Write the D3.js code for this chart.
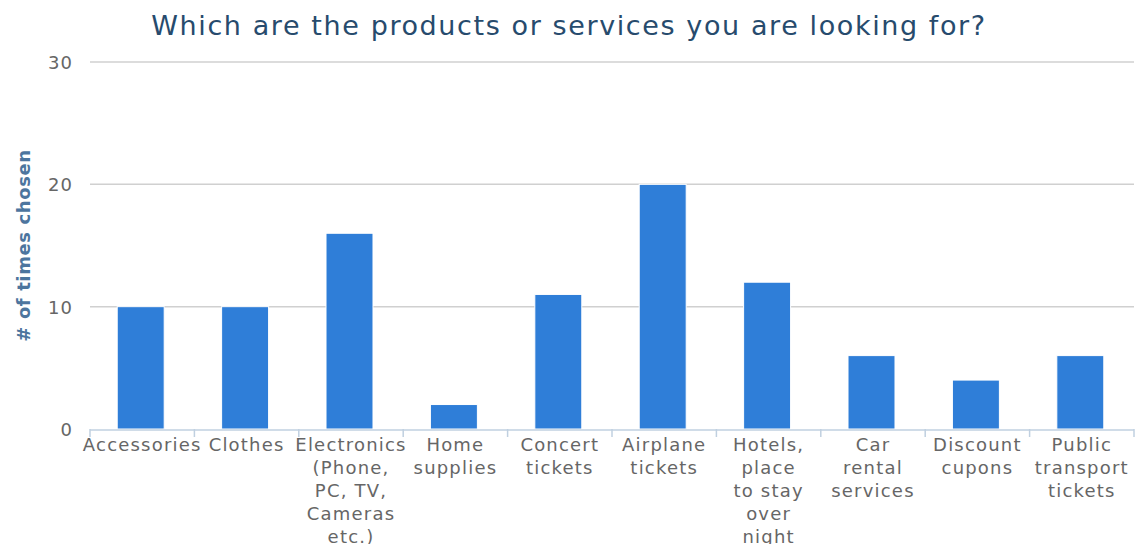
<!DOCTYPE html>
<html>
<head>
<meta charset="utf-8">
<script src="https://cdn.jsdelivr.net/npm/d3@7"></script>
<style>
  body { margin: 0; background: #fff; }
  text { font-family: "DejaVu Sans", sans-serif; }
</style>
</head>
<body>
<div id="chart"></div>
<script>
var width = 1146, height = 544;
var margin = {top: 62, right: 12, bottom: 115, left: 90};

var categories = [
  "Accessories", "Clothes", "Electronics (Phone, PC, TV, Cameras etc.)",
  "Home supplies", "Concert tickets", "Airplane tickets",
  "Hotels, place to stay over night", "Car rental services",
  "Discount cupons", "Public transport tickets"
];
var labelLines = [
  ["Accessories"], ["Clothes"], ["Electronics", "(Phone,", "PC, TV,", "Cameras", "etc.)"],
  ["Home", "supplies"], ["Concert", "tickets"], ["Airplane", "tickets"],
  ["Hotels,", "place", "to stay", "over", "night"], ["Car", "rental", "services"],
  ["Discount", "cupons"], ["Public", "transport", "tickets"]
];
var values = [10, 10, 16, 2, 11, 20, 12, 6, 4, 6];
var yTicks = [0, 10, 20, 30];

var svg = d3.select("#chart").append("svg")
  .attr("width", width)
  .attr("height", height);

var x = d3.scaleBand()
  .domain(categories)
  .range([margin.left, width - margin.right])
  .padding(0);

var y = d3.scaleLinear()
  .domain([0, 30])
  .range([height - margin.bottom, margin.top]);

// gridlines
svg.append("g").selectAll("line")
  .data(yTicks.filter(function(d) { return d > 0; }))
  .enter().append("line")
  .attr("x1", margin.left)
  .attr("x2", width - margin.right)
  .attr("y1", function(d) { return y(d); })
  .attr("y2", function(d) { return y(d); })
  .attr("stroke", "#d0d0d0")
  .attr("stroke-width", 1.5);

// y labels
svg.append("g").selectAll("text")
  .data(yTicks)
  .enter().append("text")
  .attr("x", margin.left - 17)
  .attr("y", function(d) { return y(d) + 7; })
  .attr("text-anchor", "end")
  .attr("fill", "#666")
  .attr("font-size", "18px")
  .attr("letter-spacing", "1px")
  .text(function(d) { return d; });

// bars
var barW = x.bandwidth() * 0.45;
svg.append("g").selectAll("rect")
  .data(values)
  .enter().append("rect")
  .attr("x", function(d, i) { return x(categories[i]) + (x.bandwidth() - barW) / 2 - 1.5; })
  .attr("y", function(d) { return y(d); })
  .attr("width", barW)
  .attr("height", function(d) { return y(0) - y(d); })
  .attr("fill", "#2f7ed8")
  .attr("stroke", "#fff")
  .attr("stroke-width", 1);

// x axis line + ticks
var base = y(0);
svg.append("line")
  .attr("x1", margin.left).attr("x2", width - margin.right)
  .attr("y1", base + 1).attr("y2", base + 1)
  .attr("stroke", "#c0d0e0").attr("stroke-width", 1.5);

var tickPos = categories.map(function(c) { return x(c); });
tickPos.push(width - margin.right);
svg.append("g").selectAll("line")
  .data(tickPos)
  .enter().append("line")
  .attr("x1", function(d) { return d; })
  .attr("x2", function(d) { return d; })
  .attr("y1", base)
  .attr("y2", base + 8)
  .attr("stroke", "#c0d0e0")
  .attr("stroke-width", 1.5);

// x labels
var xl = svg.append("g").selectAll("text")
  .data(labelLines)
  .enter().append("text")
  .attr("text-anchor", "middle")
  .attr("fill", "#666")
  .attr("font-size", "18px")
  .attr("letter-spacing", "1.2px")
  .attr("transform", function(d, i) {
    return "translate(" + (x(categories[i]) + x.bandwidth() / 2) + "," + (base + 22) + ")";
  });
xl.selectAll("tspan")
  .data(function(d) { return d; })
  .enter().append("tspan")
  .attr("x", 0)
  .attr("dy", function(d, i) { return i === 0 ? 0 : 23; })
  .text(function(d) { return d; });

// title
svg.append("text")
  .attr("x", 569)
  .attr("y", 35)
  .attr("text-anchor", "middle")
  .attr("fill", "#274b6d")
  .attr("font-size", "27px")
  .attr("letter-spacing", "1.6px")
  .text("Which are the products or services you are looking for?");

// y axis title
svg.append("text")
  .attr("transform", "translate(30," + ((margin.top + base) / 2) + ") rotate(-90)")
  .attr("text-anchor", "middle")
  .attr("fill", "#4d759e")
  .attr("font-weight", "bold")
  .attr("font-size", "18px")
  .attr("letter-spacing", "0.6px")
  .text("# of times chosen");
</script>
</body>
</html>
